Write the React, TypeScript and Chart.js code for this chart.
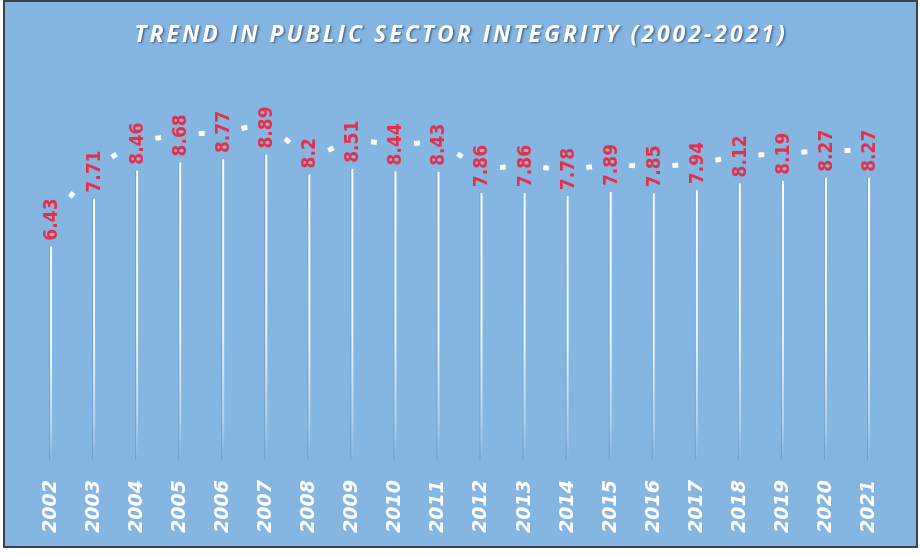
import React, { useEffect, useRef } from 'react';
import { Chart, registerables } from 'chart.js';

Chart.register(...registerables);

const TITLE = 'TREND IN PUBLIC SECTOR INTEGRITY (2002-2021)';
const YEARS = ['2002', '2003', '2004', '2005', '2006', '2007', '2008', '2009', '2010', '2011',
  '2012', '2013', '2014', '2015', '2016', '2017', '2018', '2019', '2020', '2021'];
const SCORES = [6.43, 7.71, 8.46, 8.68, 8.77, 8.89, 8.2, 8.51, 8.44, 8.43,
  7.86, 7.86, 7.78, 7.89, 7.85, 7.94, 8.12, 8.19, 8.27, 8.27];
const Y_MIN = 0;
const Y_MAX = 10;

const BG = '#85b6e2';
const RED = '#e2304a';
const DASH = 6;

const segLen = (c: any) => Math.hypot(c.p1.x - c.p0.x, c.p1.y - c.p0.y);

const dropLinePlugin = {
  id: 'dropLines',
  beforeDatasetsDraw(chart: any) {
    const ctx = chart.ctx;
    const meta = chart.getDatasetMeta(0);
    const base = chart.scales.y.getPixelForValue(Y_MIN);
    ctx.save();
    meta.data.forEach((pt: any) => {
      const g = ctx.createLinearGradient(0, pt.y, 0, base);
      g.addColorStop(0, 'rgba(255,255,255,1)');
      g.addColorStop(0.6, 'rgba(255,255,255,0.85)');
      g.addColorStop(0.88, 'rgba(255,255,255,0.35)');
      g.addColorStop(1, 'rgba(255,255,255,0)');
      ctx.strokeStyle = 'rgba(90,130,180,0.45)';
      ctx.lineWidth = 1;
      ctx.beginPath();
      ctx.moveTo(pt.x - 1.5, pt.y);
      ctx.lineTo(pt.x - 1.5, base);
      ctx.stroke();
      ctx.strokeStyle = g;
      ctx.lineWidth = 2;
      ctx.beginPath();
      ctx.moveTo(pt.x, pt.y);
      ctx.lineTo(pt.x, base);
      ctx.stroke();
    });
    ctx.restore();
  },
};

const valueLabelPlugin = {
  id: 'valueLabels',
  afterDatasetsDraw(chart: any) {
    const ctx = chart.ctx;
    const meta = chart.getDatasetMeta(0);
    const ds = chart.data.datasets[0];
    ctx.save();
    ctx.font = 'bold 19px "DejaVu Sans Condensed", "DejaVu Sans", sans-serif';
    ctx.textAlign = 'center';
    ctx.textBaseline = 'middle';
    meta.data.forEach((pt: any, i: number) => {
      const txt = String(ds.data[i]);
      const w = ctx.measureText(txt).width;
      ctx.save();
      ctx.translate(pt.x, pt.y);
      ctx.rotate(-Math.PI / 2);
      ctx.fillStyle = BG;
      ctx.fillRect(-w / 2 - 6, -12, w + 12, 24);
      ctx.fillStyle = RED;
      ctx.fillText(txt, 0, 1);
      ctx.restore();
    });
    ctx.restore();
  },
};

const titlePlugin = {
  id: 'shadowTitle',
  afterDraw(chart: any) {
    const ctx = chart.ctx;
    ctx.save();
    ctx.font = 'italic bold 23px "Open Sans", sans-serif';
    (ctx as any).letterSpacing = '3px';
    ctx.textAlign = 'center';
    ctx.textBaseline = 'middle';
    ctx.shadowColor = 'rgba(30,50,80,0.6)';
    ctx.shadowOffsetX = 1.5;
    ctx.shadowOffsetY = 1.5;
    ctx.shadowBlur = 2;
    ctx.fillStyle = '#ffffff';
    ctx.fillText(TITLE, 461, 35);
    ctx.restore();
  },
};

export default function App() {
  const ref = useRef<HTMLCanvasElement | null>(null);

  useEffect(() => {
    if (!ref.current) return;
    const chart = new Chart(ref.current, {
      type: 'line',
      data: {
        labels: YEARS,
        datasets: [
          {
            data: SCORES,
            borderColor: '#ffffff',
            borderWidth: 5,
            borderCapStyle: 'butt',
            pointRadius: 0,
            pointHoverRadius: 0,
            tension: 0.4,
            fill: false,
            segment: {
              borderDash: (c: any) => [DASH, segLen(c)],
              borderDashOffset: (c: any) => -(segLen(c) / 2 - DASH / 2),
            },
          } as any,
        ],
      },
      options: {
        animation: false,
        responsive: false,
        devicePixelRatio: 1,
        layout: { padding: { left: 51, right: 51, top: 86, bottom: 3 } },
        plugins: {
          legend: { display: false },
          title: { display: false },
          tooltip: { enabled: false },
        },
        scales: {
          x: {
            offset: false,
            grid: { display: false, drawTicks: false },
            border: { display: false },
            ticks: {
              autoSkip: false,
              minRotation: 90,
              maxRotation: 90,
              padding: 20,
              color: '#ffffff',
              font: { family: '"DejaVu Sans", sans-serif', size: 19, style: 'italic', weight: 'bold' },
            },
          },
          y: {
            display: false,
            min: Y_MIN,
            max: Y_MAX,
          },
        },
      },
      plugins: [dropLinePlugin, valueLabelPlugin, titlePlugin],
    });
    return () => chart.destroy();
  }, []);

  return (
    <div style={{ position: 'fixed', left: 0, top: 0, width: 920, height: 556, background: '#ffffff' }}>
      <div
        style={{
          position: 'absolute',
          left: 3,
          top: 0,
          width: 911,
          height: 544,
          border: '2px solid #3c4148',
          background: BG,
        }}
      />
      <canvas
        ref={ref}
        width={920}
        height={556}
        style={{ position: 'absolute', left: 0, top: 0, width: 920, height: 556 }}
      />
    </div>
  );
}
